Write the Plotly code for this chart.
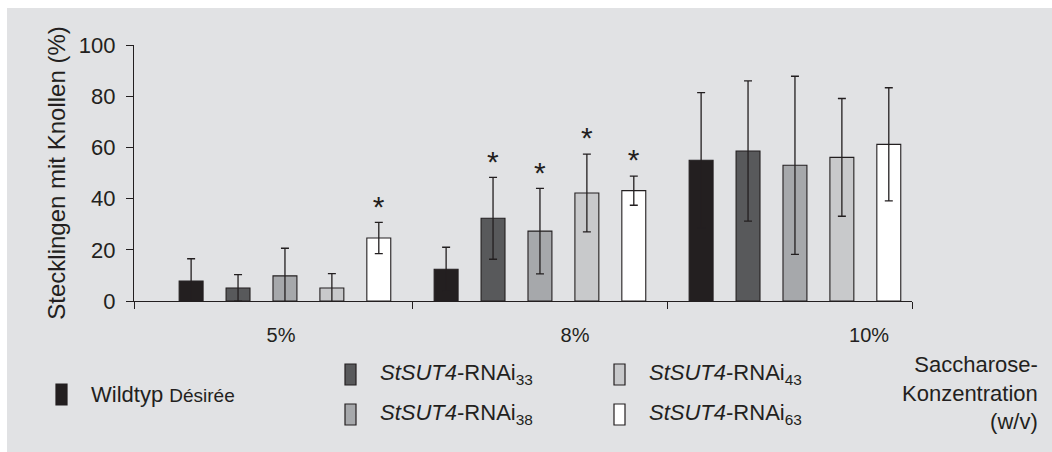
import plotly.graph_objects as go

# ---------------- data ----------------
categories = ["5%", "8%", "10%"]

series_labels = [
    "Wildtyp <span style='font-size:19px'>Désirée</span>",
    "<i>StSUT4</i>-RNAi<sub>33</sub>",
    "<i>StSUT4</i>-RNAi<sub>38</sub>",
    "<i>StSUT4</i>-RNAi<sub>43</sub>",
    "<i>StSUT4</i>-RNAi<sub>63</sub>",
]

wt_vals = [7.8, 12.4, 55.0]
r33_vals = [5.1, 32.3, 58.6]
r38_vals = [9.8, 27.3, 53.0]
r43_vals = [5.1, 42.2, 56.1]
r63_vals = [24.6, 43.1, 61.2]

wt_err = [8.7, 8.6, 26.4]
r33_err = [5.2, 16.0, 27.4]
r38_err = [10.8, 16.7, 34.8]
r43_err = [5.6, 15.2, 23.0]
r63_err = [6.1, 5.7, 22.1]

wt_sig = [False, False, False]
r33_sig = [False, True, False]
r38_sig = [False, True, False]
r43_sig = [False, True, False]
r63_sig = [True, True, False]

y_ticks = [0, 20, 40, 60, 80, 100]

# ---------------- style ----------------
colors = ["#231f20", "#58595b", "#a6a8ab", "#c8c9cb", "#ffffff"]
INK = "#231f20"
PANEL = "#e1e2e4"
FONT = "Liberation Sans, Arial, sans-serif"
STAR_DROP = 1.3  # visual offset so the asterisk glyph sits just above the error cap

W, H = 1052, 452
L, R, T, B = 134, 140, 45, 151
PW = W - L - R
PH = H - T - B


def px(x):
    return (x - L) / PW


def py(y):
    return (H - B - y) / PH


values = [wt_vals, r33_vals, r38_vals, r43_vals, r63_vals]
errors = [wt_err, r33_err, r38_err, r43_err, r63_err]
sigs = [wt_sig, r33_sig, r38_sig, r43_sig, r63_sig]

xpos = list(range(len(categories)))

fig = go.Figure()

for i, (vals, errs) in enumerate(zip(values, errors)):
    fig.add_trace(go.Bar(
        x=xpos, y=vals,
        offsetgroup=str(i),
        marker=dict(color=colors[i], line=dict(color=INK, width=1.1)),
        error_y=dict(type="data", array=errs, visible=True,
                     color=INK, thickness=1.3, width=4),
        showlegend=False, hoverinfo="skip",
    ))

# significance asterisks: placed above the error bar tops
for i, (vals, errs, sg) in enumerate(zip(values, errors, sigs)):
    sx = [x for x, s in zip(xpos, sg) if s]
    if not sx:
        continue
    sy = [v + e - STAR_DROP for v, e, s in zip(vals, errs, sg) if s]
    fig.add_trace(go.Bar(
        x=sx, y=sy,
        offsetgroup=str(i),
        marker=dict(color="rgba(0,0,0,0)", line=dict(width=0)),
        text=["*"] * len(sx),
        textposition="outside", constraintext="none", cliponaxis=False,
        textfont=dict(size=30, color=INK, family=FONT),
        showlegend=False, hoverinfo="skip",
    ))

# invisible trace carrying the category labels axis
fig.add_trace(go.Scatter(x=categories, y=[None] * len(categories), xaxis="x2",
                         mode="markers", showlegend=False, hoverinfo="skip"))

x_lo, x_hi = -0.592, 2.459

fig.update_layout(
    width=W, height=H,
    margin=dict(l=L, r=R, t=T, b=B),
    paper_bgcolor="white", plot_bgcolor="rgba(0,0,0,0)",
    barmode="group", bargap=0.08, bargroupgap=0.49,
    font=dict(family=FONT, color=INK, size=22),
    xaxis=dict(type="linear", range=[x_lo, x_hi], showgrid=False, zeroline=False,
               showline=True, linecolor=INK, linewidth=1.3,
               tickmode="array", tickvals=[x_lo, 0.5, 1.5, x_hi],
               ticks="outside", ticklen=7, tickwidth=1.3, tickcolor=INK,
               showticklabels=False),
    xaxis2=dict(type="category", categoryarray=categories, overlaying="x",
                anchor="y", side="bottom", range=[-0.5, 2.146],
                showgrid=False, zeroline=False, showline=False, ticks="",
                ticklabelstandoff=20,
                tickfont=dict(size=20, color=INK, family=FONT)),
    yaxis=dict(range=[0, 100], tickvals=y_ticks, showgrid=False, zeroline=False,
               showline=True, linecolor=INK, linewidth=1.3,
               ticks="outside", ticklen=7, tickwidth=1.3, tickcolor=INK,
               ticklabelstandoff=6,
               tickfont=dict(size=22, color=INK, family=FONT),
               title=dict(text="Stecklingen mit Knollen (%)", standoff=6,
                          font=dict(size=24, color=INK, family=FONT))),
)

shapes = [dict(type="rect", xref="paper", yref="paper", layer="below",
               x0=px(7), x1=px(W), y0=py(H), y1=py(8),
               fillcolor=PANEL, line=dict(width=0))]
annotations = []

legend_pos = [(56, 394), (345, 374), (345, 414), (614, 374), (614, 414)]
for i, (mx, my) in enumerate(legend_pos):
    shapes.append(dict(type="rect", xref="paper", yref="paper",
                       x0=px(mx), x1=px(mx + 11), y0=py(my + 11), y1=py(my - 10),
                       fillcolor=colors[i],
                       line=dict(color=INK if i > 0 else colors[0], width=1.2)))
    annotations.append(dict(xref="paper", yref="paper", x=px(mx + 33), y=py(my),
                            xanchor="left", yanchor="middle", showarrow=False,
                            text=series_labels[i],
                            font=dict(size=22, color=INK, family=FONT)))

annotations.append(dict(xref="paper", yref="paper", x=px(1040), y=py(393),
                        xanchor="right", yanchor="middle", align="right",
                        showarrow=False,
                        text="Saccharose-<br>Konzentration<br>(w/v)",
                        font=dict(size=22, color=INK, family=FONT)))

fig.update_layout(shapes=shapes, annotations=annotations)

fig.write_html("out.html")
